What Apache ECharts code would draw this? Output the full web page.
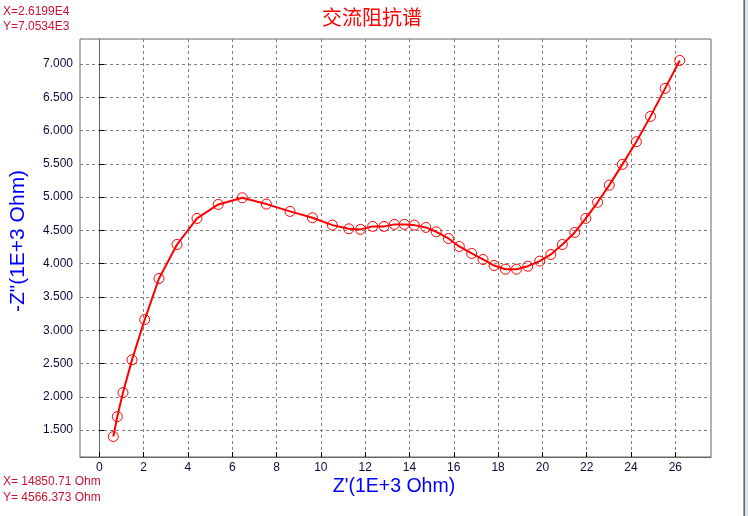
<!DOCTYPE html>
<html>
<head>
<meta charset="utf-8">
<script src="https://cdn.jsdelivr.net/npm/echarts@6/dist/echarts.min.js"></script>
<style>
html,body{margin:0;padding:0;background:#fff;}
#chart{width:748px;height:516px;}
</style>
</head>
<body>
<div id="chart"></div>
<script>
// Z' (real part, 1E+3 Ohm)
const zReal = [0.632, 0.813, 1.07, 1.476, 2.05, 2.695, 3.508, 4.41, 5.37, 6.456, 7.54, 8.61, 9.62, 10.52, 11.26, 11.79, 12.34, 12.85, 13.32, 13.77, 14.22, 14.74, 15.21, 15.76, 16.25, 16.81, 17.32, 17.82, 18.33, 18.83, 19.34, 19.88, 20.38, 20.9, 21.46, 21.96, 22.49, 23.02, 23.61, 24.24, 24.88, 25.54, 26.199];
// -Z'' (imaginary part, 1E+3 Ohm)
const zImag = [1.402, 1.702, 2.063, 2.554, 3.16, 3.777, 4.288, 4.68, 4.89, 4.99, 4.895, 4.785, 4.69, 4.579, 4.524, 4.515, 4.56, 4.56, 4.59, 4.59, 4.579, 4.544, 4.479, 4.378, 4.258, 4.153, 4.063, 3.972, 3.917, 3.917, 3.962, 4.038, 4.138, 4.288, 4.469, 4.68, 4.922, 5.18, 5.492, 5.832, 6.213, 6.634, 7.0534];
const xTicks = [0, 2, 4, 6, 8, 10, 12, 14, 16, 18, 20, 22, 24, 26];
const yTicks = [1.5, 2.0, 2.5, 3.0, 3.5, 4.0, 4.5, 5.0, 5.5, 6.0, 6.5, 7.0];
const titleText = '交流阻抗谱';
const xName = "Z'(1E+3 Ohm)";
const yName = '-Z"(1E+3 Ohm)';
const topInfo = ['X=2.6199E4', 'Y=7.0534E3'];
const bottomInfo = ['X= 14850.71 Ohm', 'Y= 4566.373 Ohm'];

const points = zReal.map((x, i) => [x, zImag[i]]);
const labelColor = '#0a0a3c';
const infoColor = '#cc1133';
const sans = 'Arial, "Liberation Sans", sans-serif';

const chart = echarts.init(document.getElementById('chart'), null, {renderer: 'canvas'});
chart.setOption({
  animation: false,
  backgroundColor: '#fff',
  grid: {
    left: 80, top: 39, width: 631, height: 418,
    show: true, borderColor: '#666', borderWidth: 1, backgroundColor: '#fff'
  },
  xAxis: {
    type: 'value',
    min: -0.871, max: 27.61,
    axisLine: {show: true, lineStyle: {color: '#666', width: 1}},
    axisTick: {show: true, inside: true, length: 5, customValues: xTicks, lineStyle: {color: '#000'}},
    axisLabel: {customValues: xTicks, color: labelColor, fontSize: 12, fontFamily: sans, margin: 5, formatter: v => String(Math.round(v))},
    splitLine: {show: true, lineStyle: {color: '#808080', type: [3, 3], width: 1}}
  },
  yAxis: {
    type: 'value',
    min: 1.0947, max: 7.3757,
    axisLine: {show: true, lineStyle: {color: '#666', width: 1}},
    axisTick: {show: true, inside: true, length: 5, customValues: yTicks, lineStyle: {color: '#000'}},
    axisLabel: {customValues: yTicks, color: labelColor, fontSize: 12, fontFamily: sans, margin: 7, formatter: v => v.toFixed(3)},
    splitLine: {show: true, lineStyle: {color: '#808080', type: [3, 3], width: 1}}
  },
  series: [{
    type: 'line',
    data: points,
    symbol: 'circle',
    symbolSize: 10,
    showAllSymbol: true,
    lineStyle: {color: '#ff0000', width: 2},
    itemStyle: {color: 'rgba(255,255,255,0)', borderColor: '#ff0000', borderWidth: 1},
    emphasis: {disabled: true}
  }],
  graphic: [
    {type: 'text', x: 372, y: 17, style: {text: titleText, fill: '#ff0000', font: '20px "Noto Sans CJK SC", sans-serif', align: 'center', verticalAlign: 'middle'}},
    {type: 'text', left: 3, top: 6, style: {text: topInfo[0], fill: infoColor, font: '12px ' + sans}},
    {type: 'text', left: 3, top: 21, style: {text: topInfo[1], fill: infoColor, font: '12px ' + sans}},
    {type: 'text', left: 3, top: 476, style: {text: bottomInfo[0], fill: infoColor, font: '12px ' + sans}},
    {type: 'text', left: 3, top: 492, style: {text: bottomInfo[1], fill: infoColor, font: '12px ' + sans}},
    {type: 'text', x: 394, y: 487, style: {text: xName, fill: '#0000ff', font: '19.5px ' + sans, align: 'center', verticalAlign: 'middle'}},
    {type: 'text', x: 18, y: 241, rotation: Math.PI / 2, style: {text: yName, fill: '#0000ff', font: '21px ' + sans, align: 'center', verticalAlign: 'middle'}},
    {type: 'rect', shape: {x: 743, y: 0, width: 1, height: 516}, style: {fill: '#a0a0a0'}},
    {type: 'rect', shape: {x: 744, y: 0, width: 1, height: 516}, style: {fill: '#696969'}},
    {type: 'rect', shape: {x: 745, y: 0, width: 3, height: 516}, style: {fill: '#dbe6f4'}}
  ]
});
</script>
</body>
</html>
